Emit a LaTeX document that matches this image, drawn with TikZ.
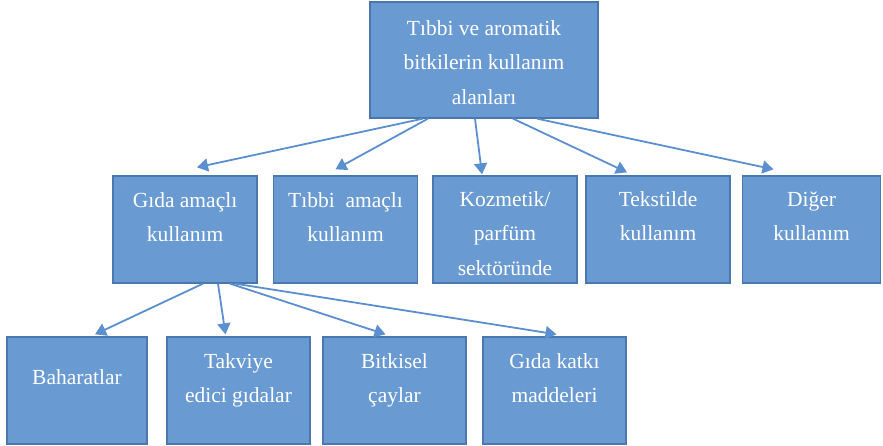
\documentclass[tikz,border=0pt]{standalone}
\usepackage{fontspec}
\setmainfont{Liberation Serif}
\usetikzlibrary{arrows.meta,positioning}
\definecolor{boxfill}{HTML}{6A9AD2}
\definecolor{boxline}{HTML}{4A78AE}
\definecolor{linkcol}{HTML}{5B8FCF}

\begin{document}
\begin{tikzpicture}[x=1pt,y=-1pt,
box/.style={draw=boxline,line width=1.3pt,fill=boxfill,minimum width=144pt,minimum height=107pt,inner sep=0pt},
txt/.style={text=white,align=center,inner sep=0pt,font=\fontsize{21.5}{34.5}\selectfont},
link/.style={draw=linkcol,line width=1.8pt,-{Triangle[length=11pt,width=13pt]}}]
\useasboundingbox (0,0) rectangle (883,446);
% top
\node[box,minimum width=228pt,minimum height=116pt] (uses) at (484,60) {};
\node[txt,below=19pt of uses.north] (usesT) {Tıbbi ve aromatik\\bitkilerin kullanım\\alanları};
% second row
\node[box] (food) at (185,229.5) {};
\node[box] (medical) at (345.5,229.5) {};
\node[box] (cosmetic) at (505,229.5) {};
\node[box] (textile) at (658,229.5) {};
\node[box,minimum width=138pt] (other) at (811.5,229.5) {};
\node[txt,below=17pt of food.north] (foodT) {Gıda amaçlı\\kullanım};
\node[txt,below=17pt of medical.north] (medicalT) {Tıbbi~ amaçlı\\kullanım};
\node[txt,below=16pt of cosmetic.north] (cosmeticT) {Kozmetik/\\parfüm\\sektöründe};
\node[txt,below=16pt of textile.north] (textileT) {Tekstilde\\kullanım};
\node[txt,below=16pt of other.north] (otherT) {Diğer\\kullanım};
% third row
\node[box,minimum width=140pt] (spices) at (77,390.5) {};
\node[box,minimum width=143pt] (supplements) at (238.5,390.5) {};
\node[box,minimum width=143pt] (teas) at (394.5,390.5) {};
\node[box,minimum width=143pt] (additives) at (554.5,390.5) {};
\node[txt,below=33pt of spices.north] (spicesT) {Baharatlar};
\node[txt,below=17pt of supplements.north] (supplementsT) {Takviye\\edici gıdalar};
\node[txt,below=17pt of teas.north] (teasT) {Bitkisel\\çaylar};
\node[txt,below=17pt of additives.north] (additivesT) {Gıda katkı\\maddeleri};
% arrows
\draw[link] ([xshift=-61pt]uses.south) -- ([xshift=12pt,yshift=8pt]food.north);
\draw[link] ([xshift=-56pt]uses.south) -- ([xshift=-10pt,yshift=6pt]medical.north);
\draw[link] ([xshift=-9pt]uses.south) -- ([xshift=-23pt,yshift=1pt]cosmetic.north);
\draw[link] ([xshift=29pt]uses.south) -- ([xshift=-31pt,yshift=3pt]textile.north);
\draw[link] ([xshift=53pt]uses.south) -- ([xshift=-38pt,yshift=6pt]other.north);
\draw[link] ([xshift=18pt]food.south) -- ([xshift=18pt,yshift=2pt]spices.north);
\draw[link] ([xshift=33pt]food.south) -- ([xshift=-13pt,yshift=2pt]supplements.north);
\draw[link] ([xshift=45pt]food.south) -- ([xshift=-9pt,yshift=2pt]teas.north);
\draw[link] ([xshift=50pt]food.south) -- ([xshift=2pt,yshift=2pt]additives.north);
\end{tikzpicture}
\end{document}
